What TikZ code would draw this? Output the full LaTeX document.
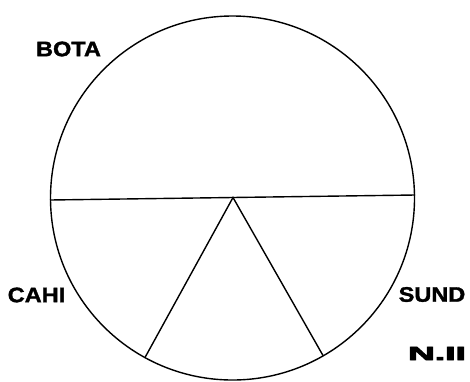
\documentclass[tikz,border=0pt]{standalone}
\usepackage{fontspec}
\setmainfont{Liberation Sans}
\newfontfamily\labelfont[FakeBold=1.5]{Liberation Sans Bold}
\newfontfamily\heavyfont[FakeBold=4]{Liberation Sans Bold}
\tikzset{
  sector label/.style={font=\fontsize{21}{22}\labelfont, xscale=1.12, inner sep=0pt},
  plate label/.style={font=\fontsize{19}{20}\heavyfont, xscale=1.95, inner sep=0pt},
}

\begin{document}
\begin{tikzpicture}[x=1pt, y=-1pt, line width=1.4pt]
    \useasboundingbox (0,0) rectangle (470,381);
    % circle and its cuts
    \coordinate (ctr) at (232.5,198);
    \coordinate (cutW) at (50,200);
    \coordinate (cutE) at (415,195);
    \coordinate (apex) at (233,197.5);
    \coordinate (footW) at (145,357.5);
    \coordinate (footE) at (323,355.5);
    \draw (ctr) circle (182pt);
    \draw (cutW) -- (cutE);
    \draw (footW) -- (apex) -- (footE);
    % labels
    \node[sector label] (bota) at (68.5,49) {BOTA};
    \node[sector label] (cahi) at (36.5,295) {CAHI};
    \node[sector label] (sund) at (432,294.5) {SUND};
    \node[plate label] (plate) at (437,353.5) {N.II};
\end{tikzpicture}
\end{document}
